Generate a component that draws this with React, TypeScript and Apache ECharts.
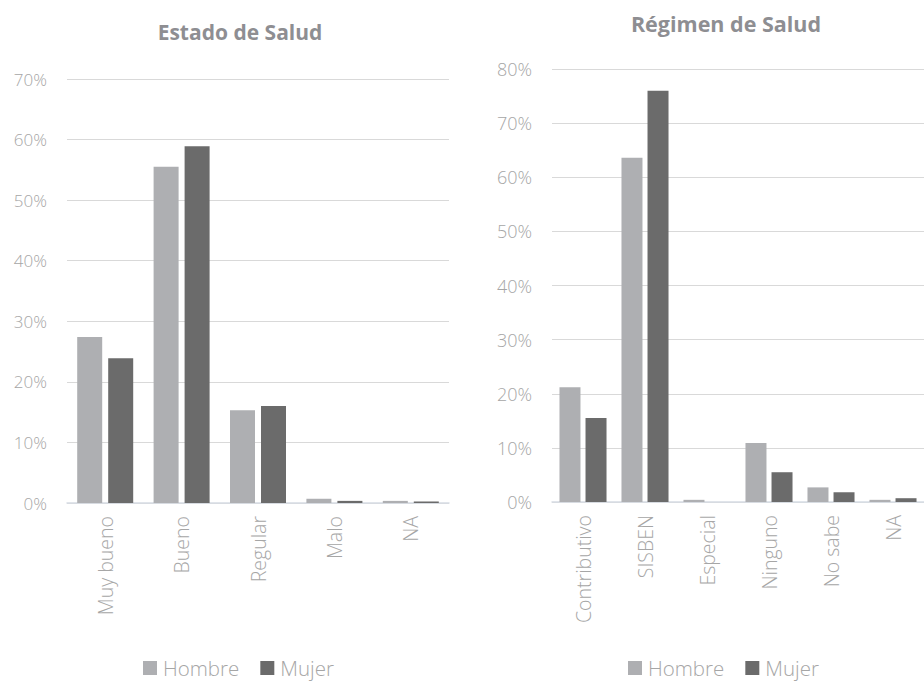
import React, { useEffect, useRef } from "react";
import * as echarts from "echarts";

const estadoCategories = ["Muy bueno", "Bueno", "Regular", "Malo", "NA"];
const estadoHombre = [27.4, 55.5, 15.3, 0.7, 0.35];
const estadoMujer = [23.9, 58.9, 16.0, 0.35, 0.25];

const regimenCategories = ["Contributivo", "SISBEN", "Especial", "Ninguno", "No sabe", "NA"];
const regimenHombre = [21.2, 63.6, 0.4, 10.9, 2.7, 0.4];
const regimenMujer = [15.5, 76.0, 0, 5.5, 1.8, 0.7];

const seriesNames = ["Hombre", "Mujer"];
const colHombre = "#AEAFB2";
const colMujer = "#6B6B6B";

const FONT = "'Open Sans', sans-serif";
const LABEL = "#A6A6A6";

export default function App() {
  const ref = useRef<HTMLDivElement>(null);
  useEffect(() => {
    if (!ref.current) return;
    const chart = echarts.init(ref.current, undefined, { renderer: "svg" });
    const yAxisCommon = (max: number, fs: number) => ({
      type: "value" as const,
      min: 0,
      max,
      interval: 10,
      axisLine: { show: false },
      axisTick: { show: false },
      splitLine: { lineStyle: { color: "#D9D9D9", width: 1 } },
      axisLabel: {
        formatter: "{value}%",
        color: LABEL,
        fontFamily: FONT,
        fontWeight: 300,
        fontSize: fs,
        margin: 20,
      },
    });
    const xAxisCommon = (data: string[], gridIndex: number) => ({
      type: "category" as const,
      gridIndex,
      data,
      axisLine: { lineStyle: { color: "#D6DCE4", width: 1.5 } },
      axisTick: { show: false },
      axisLabel: {
        rotate: 90,
        interval: 0,
        color: LABEL,
        fontFamily: FONT,
        fontWeight: 300,
        fontSize: 19.5,
        margin: 13,
      },
    });
    const legendCommon = (left: number) => ({
      data: seriesNames,
      left,
      top: 657,
      padding: 0,
      itemWidth: 14,
      itemHeight: 14,
      itemGap: 21,
      icon: "rect",
      textStyle: {
        color: LABEL,
        fontFamily: FONT,
        fontWeight: 300,
        fontSize: 20.5,
        lineHeight: 22,
        padding: [0, 0, 0, 1],
      },
    });
    chart.setOption({
      animation: false,
      title: [
        {
          text: "Estado de Salud",
          left: 235,
          textAlign: "center",
          top: 16,
          textStyle: { color: "#8E8E92", fontFamily: FONT, fontWeight: "bold", fontSize: 21 },
        },
        {
          text: "Régimen de Salud",
          left: 721,
          textAlign: "center",
          top: 7,
          textStyle: { color: "#8E8E92", fontFamily: FONT, fontWeight: "bold", fontSize: 21.5 },
        },
      ],
      legend: [legendCommon(143), legendCommon(628)],
      grid: [
        { left: 67, right: 475, top: 79, bottom: 178 },
        { left: 552, right: -12, top: 69, bottom: 179 },
      ],
      xAxis: [xAxisCommon(estadoCategories, 0), xAxisCommon(regimenCategories, 1)],
      yAxis: [
        { ...yAxisCommon(70, 17), gridIndex: 0 },
        { ...yAxisCommon(80, 18), gridIndex: 1 },
      ],
      series: [
        {
          name: "Hombre", type: "bar", xAxisIndex: 0, yAxisIndex: 0,
          data: estadoHombre, itemStyle: { color: colHombre }, barWidth: 25, barGap: "24%",
        },
        {
          name: "Mujer", type: "bar", xAxisIndex: 0, yAxisIndex: 0,
          data: estadoMujer, itemStyle: { color: colMujer }, barWidth: 25, barGap: "24%",
        },
        {
          name: "Hombre", type: "bar", xAxisIndex: 1, yAxisIndex: 1,
          data: regimenHombre, itemStyle: { color: colHombre }, barWidth: 21, barGap: "24%",
        },
        {
          name: "Mujer", type: "bar", xAxisIndex: 1, yAxisIndex: 1,
          data: regimenMujer, itemStyle: { color: colMujer }, barWidth: 21, barGap: "24%",
        },
      ],
    });
    return () => chart.dispose();
  }, []);
  return (
    <div
      ref={ref}
      style={{ position: "fixed", left: 0, top: 0, width: 924, height: 681, background: "#fff" }}
    />
  );
}
